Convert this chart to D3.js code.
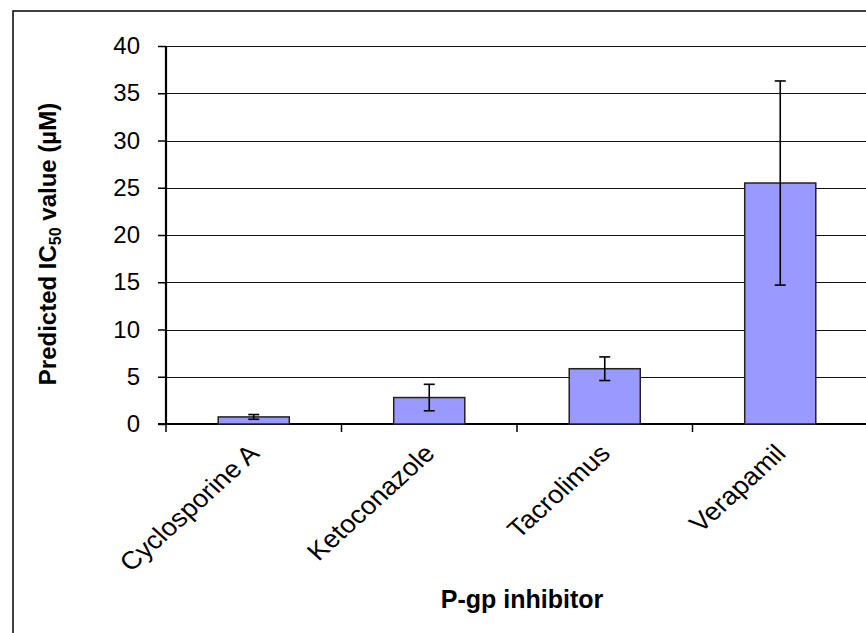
<!DOCTYPE html>
<html>
<head>
<meta charset="utf-8">
<script src="https://cdn.jsdelivr.net/npm/d3@7"></script>
<style>
  body { margin: 0; background: #ffffff; }
  text { font-family: "Liberation Sans", Arial, sans-serif; fill: #000000; }
</style>
</head>
<body>
<svg id="chart" width="866" height="633"></svg>
<script>
// P-gp inhibitor bar chart with error bars

var categories = ["Cyclosporine A", "Ketoconazole", "Tacrolimus", "Verapamil"];
var ic50_values = [0.75, 2.8, 5.85, 25.5];
var ic50_errors = [0.25, 1.4, 1.25, 10.8];
var y_ticks = [0, 5, 10, 15, 20, 25, 30, 35, 40];

var svg = d3.select("#chart");

// Plot area
var left = 166;
var right = 868;
var top_y = 46;
var bottom_y = 424;

// Outer frame (right and bottom edges fall outside the picture)
svg.append("rect")
  .attr("x", 13)
  .attr("y", 11)
  .attr("width", 900)
  .attr("height", 700)
  .attr("fill", "none")
  .attr("stroke", "#000000")
  .attr("stroke-width", 1.5);

var x = d3.scaleBand()
  .domain(categories)
  .range([left, right])
  .padding(0);

var y = d3.scaleLinear()
  .domain([0, 40])
  .range([bottom_y, top_y]);

var bar_width = x.bandwidth() * 0.405;

// Gridlines
svg.append("g")
  .selectAll("line")
  .data(y_ticks.slice(1))
  .enter()
  .append("line")
  .attr("x1", left)
  .attr("x2", right)
  .attr("y1", function(d) { return Math.round(y(d)) + 0.5; })
  .attr("y2", function(d) { return Math.round(y(d)) + 0.5; })
  .attr("stroke", "#111111")
  .attr("stroke-width", 1.2);

// Y axis
var y_axis = svg.append("g")
  .attr("transform", "translate(" + left + ",0)")
  .call(d3.axisLeft(y).tickValues(y_ticks).tickSize(8).tickPadding(18));
y_axis.select(".domain").attr("stroke-width", 2.2).attr("d", "M0," + bottom_y + "V" + top_y);
y_axis.selectAll(".tick line").attr("stroke-width", 1.5);
y_axis.selectAll(".tick text")
  .style("font-size", "24px")
  .style("font-family", "'Liberation Sans', Arial, sans-serif")
  .attr("fill", "#000000");

// X axis: ticks sit between categories
var x_axis = svg.append("g")
  .attr("transform", "translate(0," + bottom_y + ")");
x_axis.append("line")
  .attr("x1", left - 8)
  .attr("x2", right)
  .attr("stroke", "#000000")
  .attr("stroke-width", 2.2);
x_axis.selectAll(".xtick")
  .data(categories)
  .enter()
  .append("line")
  .attr("class", "xtick")
  .attr("x1", function(d) { return x(d); })
  .attr("x2", function(d) { return x(d); })
  .attr("y1", 0)
  .attr("y2", 8)
  .attr("stroke", "#000000")
  .attr("stroke-width", 1.5);

// Bars
var rows = categories.map(function(c, i) {
  return { name: c, value: ic50_values[i], err: ic50_errors[i] };
});

svg.append("g")
  .selectAll("rect")
  .data(rows)
  .enter()
  .append("rect")
  .attr("x", function(d) { return x(d.name) + (x.bandwidth() - bar_width) / 2; })
  .attr("y", function(d) { return y(d.value); })
  .attr("width", bar_width)
  .attr("height", function(d) { return y(0) - y(d.value); })
  .attr("fill", "#9999ff")
  .attr("stroke", "#222222")
  .attr("stroke-width", 1.5);

// Error bars
var err_g = svg.append("g")
  .attr("stroke", "#000000")
  .attr("stroke-width", 1.6);
rows.forEach(function(d) {
  var cx = x(d.name) + x.bandwidth() / 2;
  err_g.append("line")
    .attr("x1", cx).attr("x2", cx)
    .attr("y1", y(d.value + d.err)).attr("y2", y(d.value - d.err));
  [d.value + d.err, d.value - d.err].forEach(function(v) {
    err_g.append("line")
      .attr("x1", cx - 5.5).attr("x2", cx + 5.5)
      .attr("y1", y(v)).attr("y2", y(v));
  });
});

// Category labels, rotated 45 degrees
svg.append("g")
  .selectAll("text")
  .data(categories)
  .enter()
  .append("text")
  .attr("transform", function(d) {
    var cx = x(d) + x.bandwidth() / 2;
    return "translate(" + (cx + 7) + "," + (bottom_y + 31) + ") scale(1.1,1) rotate(-45)";
  })
  .style("text-anchor", "end")
  .style("font-size", "25px")
  .text(function(d) { return d; });

// X axis title
svg.append("text")
  .attr("x", 522)
  .attr("y", 608)
  .style("text-anchor", "middle")
  .style("font-size", "25px")
  .style("font-weight", "bold")
  .text("P-gp inhibitor");

// Y axis title with subscript
var y_title = svg.append("text")
  .attr("transform", "translate(56,244) rotate(-90)")
  .style("text-anchor", "middle")
  .style("font-size", "24px")
  .style("font-weight", "bold");
y_title.append("tspan").text("Predicted IC");
y_title.append("tspan").attr("dy", 5).style("font-size", "16px").text("50");
y_title.append("tspan").attr("dy", -5).text(" value (\u00b5M)");
</script>
</body>
</html>
